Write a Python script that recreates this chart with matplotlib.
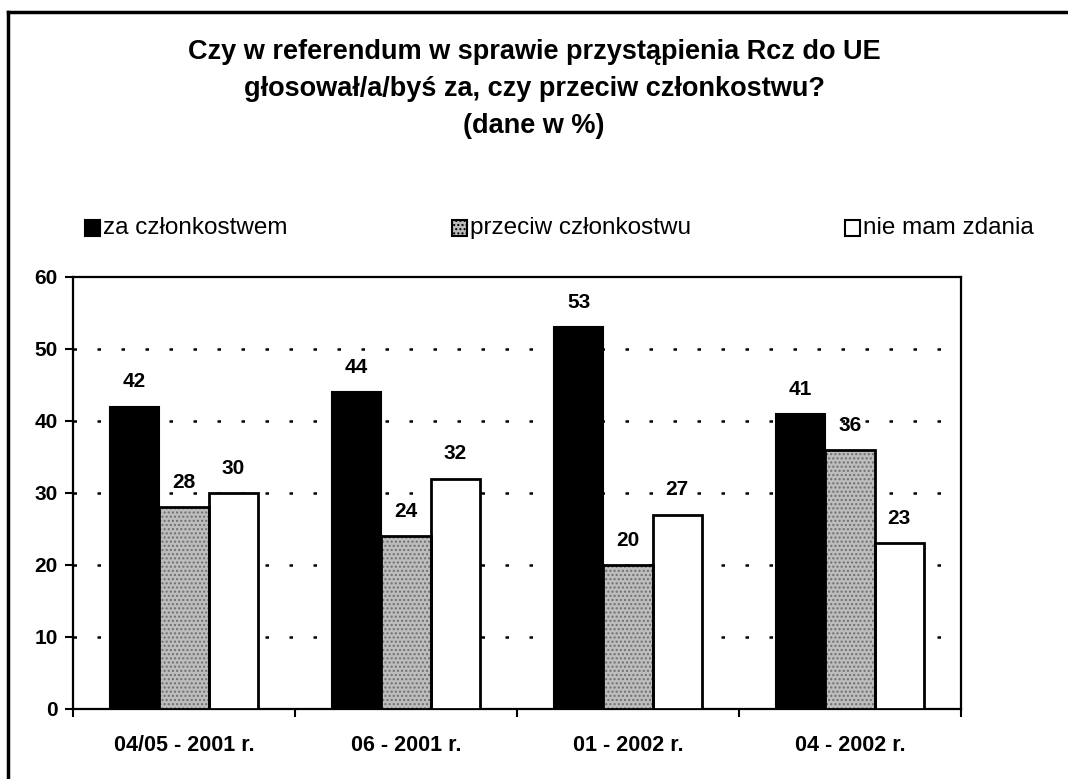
import matplotlib
matplotlib.use("Agg")
import matplotlib.pyplot as plt
from matplotlib.patches import Rectangle
from matplotlib.lines import Line2D
import numpy as np

plt.rcParams['font.family'] = ['Liberation Sans', 'DejaVu Sans']

categories = ["04/05 - 2001 r.", "06 - 2001 r.", "01 - 2002 r.", "04 - 2002 r."]
za = [42, 44, 53, 41]
przeciw = [28, 24, 20, 36]
nie_mam = [30, 32, 27, 23]
series_names = ["za członkostwem", "przeciw członkostwu", "nie mam zdania"]
title = ("Czy w referendum w sprawie przystąpienia Rcz do UE\n"
         "głosował/a/byś za, czy przeciw członkostwu?\n(dane w %)")

W, H = 1068.0, 779.0
fig = plt.figure(figsize=(10.68, 7.79), dpi=100)
ax = fig.add_axes([73 / W, 1 - 709 / H, 888 / W, 432 / H])

x = np.arange(len(categories))
w = 0.222

ax.set_ylim(0, 60)
ax.set_xlim(-0.5, len(categories) - 0.5)
for yv in [10, 20, 30, 40, 50]:
    ax.axhline(yv, color='black', lw=1.8, linestyle=(0, (1.4, 8.2)), zorder=1)

grey = '#bdbdbd'
ax.bar(x - w, za, w, color='black', edgecolor='black', lw=1.5, zorder=3)
ax.bar(x, przeciw, w, color=grey, edgecolor='#6e6e6e', hatch='....', lw=0, zorder=3)
ax.bar(x, przeciw, w, fill=False, edgecolor='black', lw=2, zorder=4)
ax.bar(x + w, nie_mam, w, color='white', edgecolor='black', lw=2, zorder=3)

for vals, off in [(za, -w), (przeciw, 0), (nie_mam, w)]:
    for xi, v in zip(x, vals):
        ax.annotate(str(v), (xi + off, v), xytext=(0, 11), textcoords='offset points',
                    ha='center', va='bottom', fontsize=15, fontweight='bold', zorder=5)

ax.set_yticks([0, 10, 20, 30, 40, 50, 60])
ax.set_yticklabels(['0', '10', '20', '30', '40', '50', '60'], fontsize=15, fontweight='bold')
ax.set_xticks(x)
ax.set_xticklabels(categories, fontsize=15.5, fontweight='bold')
ax.tick_params(axis='x', length=0, pad=19)
ax.set_xticks(np.arange(-0.5, len(categories)), minor=True)
ax.tick_params(axis='x', which='minor', length=6, width=1.5, direction='out')
ax.tick_params(axis='y', length=6, width=1.5, direction='out', pad=5)
for s in ax.spines.values():
    s.set_linewidth(1.6)

fig.text(0.5, 0.95, title, ha='center', va='top', fontsize=19.5, fontweight='bold',
         linespacing=1.55)

leg_items = [(85, 'black', None), (452, grey, '....'), (845, 'white', None)]
for (px, col, hatch), name in zip(leg_items, series_names):
    r = Rectangle((px / W, 1 - 236 / H), 15 / W, 16 / H, transform=fig.transFigure,
                  facecolor=col, edgecolor='black', lw=1.5, hatch=hatch)
    fig.patches.append(r)
    fig.text((px + 18) / W, 1 - 228 / H, name, ha='left', va='center', fontsize=17.5)

fig.add_artist(Line2D([8 / W, 1], [1 - 12 / H, 1 - 12 / H], color='black', lw=2.5,
                      transform=fig.transFigure))
fig.add_artist(Line2D([8 / W, 8 / W], [0, 1 - 12 / H], color='black', lw=2.5,
                      transform=fig.transFigure))

fig.savefig('out.png', dpi=100)
